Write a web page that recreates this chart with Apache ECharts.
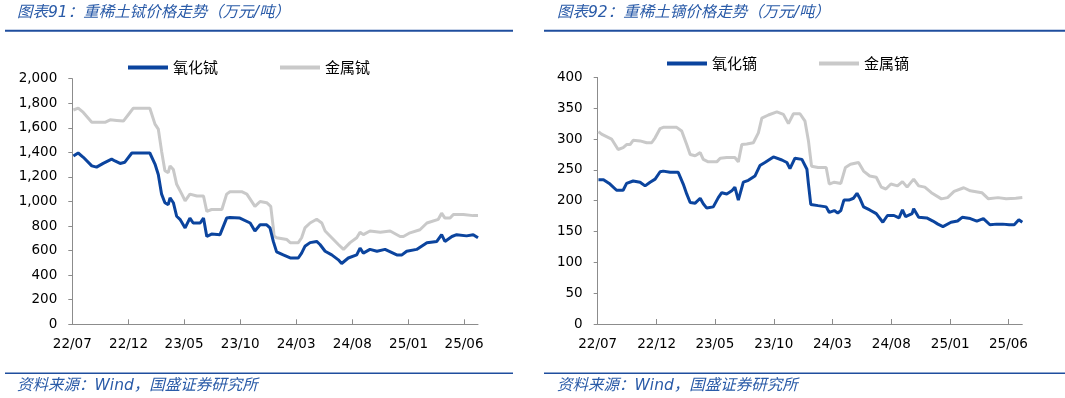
<!DOCTYPE html>
<html>
<head>
<meta charset="utf-8">
<title>重稀土价格走势</title>
<script src="https://cdn.jsdelivr.net/npm/echarts@6/dist/echarts.min.js"></script>
<style>
html, body { margin: 0; padding: 0; background: #fff; }
#main { width: 1065px; height: 398px; }
</style>
</head>
<body>
<div id="main"></div>
<script>
'use strict';

/* ===== x axis ticks (every 5 months) ===== */
var tickDates = ['2022-07-01', '2022-12-01', '2023-05-01', '2023-10-01', '2024-03-01', '2024-08-01', '2025-01-01', '2025-06-01'];
var tickLabels = ['22/07', '22/12', '23/05', '23/10', '24/03', '24/08', '25/01', '25/06'];

/* ===== 图表91 重稀土铽 (万元/吨) ===== */
var tbOxideDates = ['2022-07-04', '2022-07-17', '2022-07-31', '2022-08-23', '2022-09-05', '2022-09-23', '2022-10-16', '2022-10-25', '2022-11-08', '2022-11-21',
  '2022-12-10', '2023-01-28', '2023-02-11', '2023-02-20', '2023-03-01', '2023-03-10', '2023-03-19', '2023-03-24', '2023-04-02', '2023-04-11',
  '2023-04-20', '2023-05-04', '2023-05-17', '2023-05-26', '2023-06-14', '2023-06-23', '2023-07-02', '2023-07-15', '2023-08-07', '2023-08-25',
  '2023-09-03', '2023-09-30', '2023-10-28', '2023-11-10', '2023-11-24', '2023-12-12', '2023-12-21', '2023-12-30', '2024-01-08', '2024-01-26',
  '2024-02-14', '2024-03-07', '2024-03-16', '2024-03-25', '2024-04-08', '2024-04-26', '2024-05-05', '2024-05-19', '2024-06-06', '2024-06-24',
  '2024-07-03', '2024-07-21', '2024-08-13', '2024-08-22', '2024-08-31', '2024-09-18', '2024-10-07', '2024-10-29', '2024-11-30', '2024-12-14',
  '2024-12-27', '2025-01-23', '2025-02-20', '2025-03-19', '2025-04-01', '2025-04-10', '2025-04-29', '2025-05-12', '2025-06-08', '2025-06-26',
  '2025-07-09'];
var tbOxideValues = [1370, 1395, 1360, 1290, 1280, 1310, 1345, 1330, 1310, 1320,
  1395, 1395, 1305, 1220, 1060, 990, 975, 1030, 990, 880,
  855, 785, 865, 825, 825, 865, 715, 735, 730, 865,
  870, 865, 825, 760, 810, 810, 785, 675, 590, 565,
  540, 540, 580, 635, 665, 675, 650, 595, 565, 525,
  495, 540, 565, 620, 580, 610, 595, 610, 565, 565,
  595, 610, 665, 675, 730, 675, 715, 730, 720, 730,
  705];

var tbMetalDates = ['2022-07-04', '2022-07-17', '2022-07-31', '2022-08-23', '2022-09-28', '2022-10-12', '2022-10-30', '2022-11-17', '2022-12-05', '2022-12-14',
  '2023-01-28', '2023-02-11', '2023-02-20', '2023-03-01', '2023-03-10', '2023-03-19', '2023-03-24', '2023-04-02', '2023-04-11', '2023-04-25',
  '2023-05-04', '2023-05-17', '2023-06-05', '2023-06-23', '2023-07-02', '2023-07-15', '2023-08-12', '2023-08-25', '2023-09-03', '2023-10-05',
  '2023-10-19', '2023-11-10', '2023-11-24', '2023-12-12', '2023-12-23', '2023-12-30', '2024-01-01', '2024-01-08', '2024-02-05', '2024-02-14',
  '2024-03-07', '2024-03-16', '2024-03-25', '2024-04-08', '2024-04-26', '2024-05-10', '2024-05-19', '2024-06-06', '2024-06-24', '2024-07-08',
  '2024-07-26', '2024-08-13', '2024-08-22', '2024-08-31', '2024-09-18', '2024-10-16', '2024-11-12', '2024-12-09', '2024-12-18', '2025-01-05',
  '2025-02-01', '2025-02-20', '2025-03-23', '2025-04-01', '2025-04-10', '2025-04-24', '2025-05-03', '2025-05-30', '2025-06-26', '2025-07-09'];
var tbMetalValues = [1745, 1760, 1725, 1645, 1645, 1665, 1660, 1655, 1725, 1760,
  1760, 1630, 1590, 1410, 1250, 1235, 1290, 1260, 1140, 1060,
  1005, 1060, 1045, 1045, 920, 935, 935, 1060, 1080, 1080,
  1060, 960, 1000, 990, 960, 785, 720, 705, 690, 665,
  665, 705, 785, 825, 855, 825, 760, 705, 650, 610,
  665, 705, 750, 730, 760, 750, 760, 715, 715, 745,
  770, 825, 855, 905, 865, 865, 895, 895, 885, 885];

/* ===== 图表92 重稀土镝 (万元/吨) ===== */
var dyOxideDates = ['2022-07-03', '2022-07-16', '2022-08-02', '2022-08-19', '2022-09-05', '2022-09-14', '2022-10-01', '2022-10-19', '2022-11-01', '2022-11-14',
  '2022-11-27', '2022-12-10', '2022-12-18', '2023-01-05', '2023-01-26', '2023-02-08', '2023-02-17', '2023-02-26', '2023-03-11', '2023-03-24',
  '2023-04-01', '2023-04-10', '2023-04-27', '2023-05-10', '2023-05-19', '2023-06-01', '2023-06-14', '2023-06-22', '2023-07-01', '2023-07-14',
  '2023-07-27', '2023-08-13', '2023-08-26', '2023-09-08', '2023-09-30', '2023-10-22', '2023-11-04', '2023-11-12', '2023-11-25', '2023-12-13',
  '2023-12-26', '2023-12-30', '2024-01-05', '2024-01-24', '2024-02-14', '2024-02-22', '2024-03-06', '2024-03-15', '2024-03-23', '2024-03-31',
  '2024-04-13', '2024-04-25', '2024-05-04', '2024-05-12', '2024-05-21', '2024-06-06', '2024-06-23', '2024-07-10', '2024-07-22', '2024-08-08',
  '2024-08-21', '2024-08-30', '2024-09-07', '2024-09-24', '2024-09-28', '2024-10-11', '2024-11-01', '2024-11-17', '2024-11-30', '2024-12-13',
  '2025-01-03', '2025-01-20', '2025-02-01', '2025-02-22', '2025-03-11', '2025-03-28', '2025-04-14', '2025-05-01', '2025-05-17', '2025-06-03',
  '2025-06-16', '2025-06-28', '2025-07-07'];
var dyOxideValues = [234, 234, 227, 217, 217, 228, 232, 230, 224, 230,
  235, 247, 248, 246, 246, 227, 211, 197, 196, 204,
  195, 188, 190, 205, 213, 211, 216, 222, 201, 230,
  233, 240, 257, 262, 271, 266, 262, 252, 269, 267,
  251, 227, 194, 192, 190, 181, 184, 180, 184, 201,
  201, 204, 212, 203, 190, 185, 179, 165, 176, 176,
  172, 185, 174, 179, 187, 173, 172, 167, 162, 158,
  165, 167, 173, 171, 167, 171, 161, 162, 162, 161,
  161, 169, 165];

var dyMetalDates = ['2022-07-03', '2022-07-11', '2022-08-06', '2022-08-23', '2022-09-05', '2022-09-14', '2022-09-23', '2022-10-01', '2022-10-19', '2022-11-05',
  '2022-11-18', '2022-11-27', '2022-12-10', '2022-12-18', '2023-01-22', '2023-02-04', '2023-02-17', '2023-02-26', '2023-03-11', '2023-03-24',
  '2023-04-01', '2023-04-14', '2023-05-06', '2023-05-15', '2023-06-01', '2023-06-22', '2023-07-01', '2023-07-10', '2023-07-23', '2023-08-09',
  '2023-08-22', '2023-08-31', '2023-09-17', '2023-10-09', '2023-10-26', '2023-11-08', '2023-11-21', '2023-12-08', '2023-12-21', '2023-12-30',
  '2024-01-07', '2024-01-24', '2024-02-14', '2024-02-22', '2024-03-06', '2024-03-23', '2024-04-04', '2024-04-17', '2024-05-08', '2024-05-21',
  '2024-06-06', '2024-06-23', '2024-07-06', '2024-07-18', '2024-07-31', '2024-08-17', '2024-08-30', '2024-09-11', '2024-09-28', '2024-10-11',
  '2024-10-27', '2024-11-13', '2024-12-09', '2024-12-25', '2025-01-11', '2025-02-05', '2025-02-22', '2025-03-24', '2025-04-10', '2025-05-05',
  '2025-05-26', '2025-06-20', '2025-07-07'];
var dyMetalValues = [312, 308, 300, 283, 286, 291, 291, 298, 297, 294,
  294, 302, 317, 319, 319, 313, 291, 275, 273, 278,
  267, 263, 263, 269, 270, 270, 263, 291, 292, 294,
  310, 334, 339, 344, 340, 325, 341, 341, 329, 297,
  256, 254, 254, 227, 230, 228, 254, 259, 262, 248,
  240, 238, 222, 219, 227, 224, 231, 222, 235, 224,
  222, 213, 203, 205, 215, 221, 216, 213, 203, 205,
  203, 204, 205];

/* ===== helpers ===== */
function ts(s) {
  var p = s.split('-');
  return new Date(+p[0], +p[1] - 1, +p[2]).getTime();
}
function pairs(dates, values) {
  return dates.map(function (d, i) { return [ts(d), values[i]]; });
}

var BLUE = '#0B449E';
var GRAY = '#C9C9C9';
var AXIS = '#8C8C8C';
var TITLE_BLUE = '#2A5BA8';
var numFont = 'DejaVu Sans, Verdana, sans-serif';
var cjkFont = 'Noto Sans CJK SC, sans-serif';

// dates are plotted on a plain value axis (ms), ticks only at the labelled months
function xAxis(gridIndex, maxDate) {
  var ticks = tickDates.map(ts);
  return {
    type: 'value',
    gridIndex: gridIndex,
    min: ts('2022-07-01'),
    max: ts(maxDate),
    scale: true,
    axisLine: { lineStyle: { color: AXIS, width: 1 } },
    axisTick: { show: true, inside: true, length: 5, customValues: ticks, lineStyle: { color: AXIS } },
    axisLabel: {
      customValues: ticks,
      margin: 13,
      color: '#000',
      fontSize: 13.5,
      fontFamily: numFont,
      hideOverlap: false,
      formatter: function (v) {
        var i = ticks.indexOf(v);
        return i >= 0 ? tickLabels[i] : '';
      }
    },
    splitLine: { show: false }
  };
}

function yAxis(gridIndex, max, interval) {
  return {
    type: 'value',
    gridIndex: gridIndex,
    min: 0,
    max: max,
    interval: interval,
    axisLine: { show: true, lineStyle: { color: AXIS, width: 1 } },
    axisTick: { show: true, length: 4, lineStyle: { color: AXIS } },
    axisLabel: {
      margin: 15,
      color: '#000',
      fontSize: 13.5,
      fontFamily: numFont,
      formatter: function (v) { return v.toLocaleString('en-US'); }
    },
    splitLine: { show: false }
  };
}

function lineSeries(name, idx, data, color) {
  return {
    name: name,
    type: 'line',
    xAxisIndex: idx,
    yAxisIndex: idx,
    data: data,
    showSymbol: false,
    symbol: 'none',
    smooth: false,
    lineStyle: { color: color, width: 3 },
    itemStyle: { color: color },
    emphasis: { disabled: true },
    animation: false
  };
}

function legend(names, left, top) {
  return {
    data: names,
    left: left,
    top: top,
    padding: 0,
    icon: 'rect',
    itemWidth: 40,
    itemHeight: 4,
    itemGap: 62,
    textStyle: { fontFamily: cjkFont, fontSize: 15, color: '#000' }
  };
}

function headText(x, y, text) {
  return {
    type: 'text',
    left: x,
    top: y,
    style: { text: text, fill: TITLE_BLUE, font: 'italic 15.5px DejaVu Sans, Noto Sans CJK SC' }
  };
}
function rule(x1, x2, y, w) {
  return {
    type: 'line',
    shape: { x1: x1, y1: y, x2: x2, y2: y },
    style: { stroke: '#1F4E9E', lineWidth: w }
  };
}

var chart = echarts.init(document.getElementById('main'), null, { renderer: 'canvas' });

var option = {
  backgroundColor: '#fff',
  animation: false,
  grid: [
    { left: 72.3, top: 78.7, width: 405.7, height: 245.6 },
    { left: 597.7, top: 77.4, width: 424.6, height: 246.6 }
  ],
  xAxis: [xAxis(0, '2025-07-09'), xAxis(1, '2025-07-07')],
  yAxis: [yAxis(0, 2000, 200), yAxis(1, 400, 50)],
  legend: [
    legend(['氧化铽', '金属铽'], 128, 60),
    legend(['氧化镝', '金属镝'], 667, 56)
  ],
  series: [
    lineSeries('金属铽', 0, pairs(tbMetalDates, tbMetalValues), GRAY),
    lineSeries('氧化铽', 0, pairs(tbOxideDates, tbOxideValues), BLUE),
    lineSeries('金属镝', 1, pairs(dyMetalDates, dyMetalValues), GRAY),
    lineSeries('氧化镝', 1, pairs(dyOxideDates, dyOxideValues), BLUE)
  ],
  graphic: [
    headText(17, 5, '图表91：重稀土铽价格走势（万元/吨）'),
    headText(557, 5, '图表92：重稀土镝价格走势（万元/吨）'),
    rule(5, 513, 30.7, 2),
    rule(544, 1065, 30.7, 2),
    rule(5, 513, 373.3, 1.5),
    rule(544, 1065, 373.3, 1.5),
    headText(17, 378, '资料来源：Wind，国盛证券研究所'),
    headText(557, 378, '资料来源：Wind，国盛证券研究所')
  ]
};

chart.setOption(option);
</script>
</body>
</html>
